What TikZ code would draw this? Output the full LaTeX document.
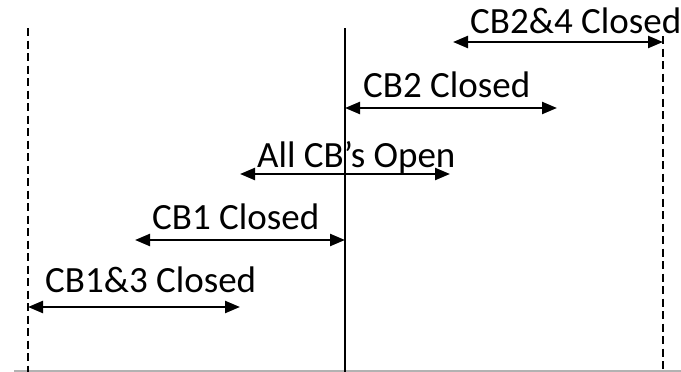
\documentclass[tikz,border=0pt]{standalone}
\usepackage{fontspec}
\setmainfont{Carlito}
\usetikzlibrary{arrows.meta}
\tikzset{
  lbl/.style={anchor=base west, inner sep=0pt, font=\fontsize{37}{43}\selectfont},
  rng/.style={line width=2.4pt, {Triangle[length=15pt,width=12pt]}-{Triangle[length=15pt,width=12pt]}},
  bound/.style={line width=1.6pt, dash pattern=on 8pt off 4.5pt},
  mid/.style={line width=1.6pt},
  base/.style={line width=1.6pt, draw=black!30}
}
\begin{document}
\begin{tikzpicture}[x=1pt,y=-1pt]
\useasboundingbox (0,0) rectangle (681,372);
% vertical lines
\coordinate (lt) at (28,28);
\coordinate (lb) at (28,372);
\coordinate (ct) at (345,28);
\coordinate (cb) at (345,372);
\coordinate (rt) at (663,36);
\coordinate (rb) at (663,372);
\coordinate (bl) at (14,371);
\coordinate (br) at (681,371);
\draw[base] (bl) -- (br);
\draw[bound] (lt) -- (lb);
\draw[bound] (rt) -- (rb);
\draw[mid] (ct) -- (cb);
% labels
\node[lbl] (t24) at (470,33) {CB2\&4 Closed};
\node[lbl] (t2) at (363,97) {CB2 Closed};
\node[lbl] (t0) at (257,167) {All CB’s Open};
\node[lbl] (t1) at (152,229) {CB1 Closed};
\node[lbl] (t13) at (45,292) {CB1\&3 Closed};
% arrows
\coordinate (a24l) at (453,42);
\coordinate (a24r) at (663,42);
\coordinate (a2l) at (345,108);
\coordinate (a2r) at (557,108);
\coordinate (a0l) at (240,174);
\coordinate (a0r) at (450,174);
\coordinate (a1l) at (135,240);
\coordinate (a1r) at (345,240);
\coordinate (a13l) at (28,307);
\coordinate (a13r) at (240,307);
\draw[rng] (a24l) -- (a24r);
\draw[rng] (a2l) -- (a2r);
\draw[rng] (a0l) -- (a0r);
\draw[rng] (a1l) -- (a1r);
\draw[rng] (a13l) -- (a13r);
\end{tikzpicture}
\end{document}
